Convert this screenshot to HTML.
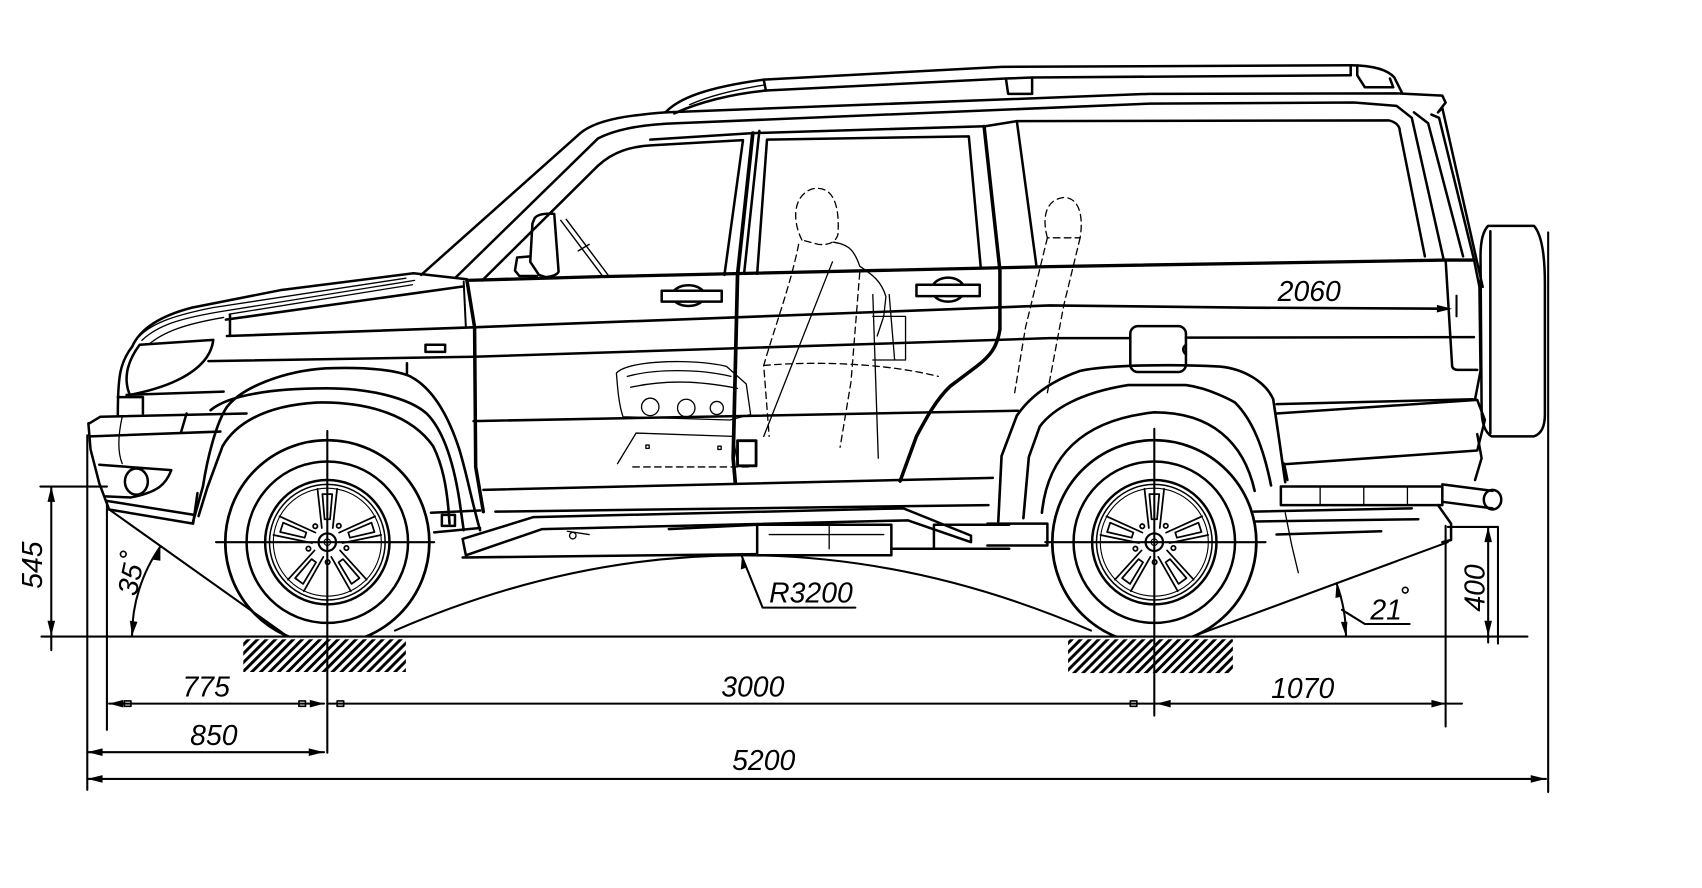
<!DOCTYPE html>
<html><head><meta charset="utf-8">
<style>
html,body{margin:0;padding:0;background:#fff;}
svg{display:block;}
text{font-family:"Liberation Sans",sans-serif;font-style:italic;font-size:26px;fill:#000;}
</style></head><body>
<svg width="1702" height="888" viewBox="0 0 1560 814" preserveAspectRatio="none" xmlns="http://www.w3.org/2000/svg">
<defs>
<pattern id="hatch" width="5.8" height="5.8" patternUnits="userSpaceOnUse" patternTransform="rotate(45)"><rect x="0" y="0" width="2.7" height="5.8" fill="#000"/></pattern>
<clipPath id="tc"><rect x="-120" y="-120" width="240" height="206.5"/></clipPath>
</defs>
<rect x="0" y="0" width="1560" height="814" fill="#fff"/>

<!-- hatches -->
<rect x="223" y="586" width="149" height="30" fill="url(#hatch)"/>
<rect x="979" y="586" width="151" height="31" fill="url(#hatch)"/>

<g fill="none" stroke="#000" stroke-linejoin="round" stroke-linecap="round">

<!-- ===== WHEELS ===== -->
<g transform="translate(300,497)">
<circle r="93.5" stroke-width="2.5" clip-path="url(#tc)"/>
<circle r="74" stroke-width="2.3"/>
<circle r="57" stroke-width="2.3"/>
<circle r="53" stroke-width="1.4"/>
<circle r="49.5" stroke-width="1"/>
<circle r="8" stroke-width="2"/>
<circle r="3" stroke-width="1"/>
<g stroke-width="1.6">
<g><path d="M -5,-13 L -9,-49 M 5,-13 L 9,-49 M -2.5,-21 L -4.5,-44 L 4.5,-44 L 2.5,-21 Z"/><circle cx="10.5" cy="-15" r="2"/></g>
<g transform="rotate(72)"><path d="M -5,-13 L -9,-49 M 5,-13 L 9,-49 M -2.5,-21 L -4.5,-44 L 4.5,-44 L 2.5,-21 Z"/><circle cx="10.5" cy="-15" r="2"/></g>
<g transform="rotate(144)"><path d="M -5,-13 L -9,-49 M 5,-13 L 9,-49 M -2.5,-21 L -4.5,-44 L 4.5,-44 L 2.5,-21 Z"/><circle cx="10.5" cy="-15" r="2"/></g>
<g transform="rotate(216)"><path d="M -5,-13 L -9,-49 M 5,-13 L 9,-49 M -2.5,-21 L -4.5,-44 L 4.5,-44 L 2.5,-21 Z"/><circle cx="10.5" cy="-15" r="2"/></g>
<g transform="rotate(288)"><path d="M -5,-13 L -9,-49 M 5,-13 L 9,-49 M -2.5,-21 L -4.5,-44 L 4.5,-44 L 2.5,-21 Z"/><circle cx="10.5" cy="-15" r="2"/></g>
</g>
</g>
<g transform="translate(1058,497)">
<circle r="93.5" stroke-width="2.5" clip-path="url(#tc)"/>
<circle r="74" stroke-width="2.3"/>
<circle r="57" stroke-width="2.3"/>
<circle r="53" stroke-width="1.4"/>
<circle r="49.5" stroke-width="1"/>
<circle r="8" stroke-width="2"/>
<circle r="3" stroke-width="1"/>
<g stroke-width="1.6">
<g><path d="M -5,-13 L -9,-49 M 5,-13 L 9,-49 M -2.5,-21 L -4.5,-44 L 4.5,-44 L 2.5,-21 Z"/><circle cx="10.5" cy="-15" r="2"/></g>
<g transform="rotate(72)"><path d="M -5,-13 L -9,-49 M 5,-13 L 9,-49 M -2.5,-21 L -4.5,-44 L 4.5,-44 L 2.5,-21 Z"/><circle cx="10.5" cy="-15" r="2"/></g>
<g transform="rotate(144)"><path d="M -5,-13 L -9,-49 M 5,-13 L 9,-49 M -2.5,-21 L -4.5,-44 L 4.5,-44 L 2.5,-21 Z"/><circle cx="10.5" cy="-15" r="2"/></g>
<g transform="rotate(216)"><path d="M -5,-13 L -9,-49 M 5,-13 L 9,-49 M -2.5,-21 L -4.5,-44 L 4.5,-44 L 2.5,-21 Z"/><circle cx="10.5" cy="-15" r="2"/></g>
<g transform="rotate(288)"><path d="M -5,-13 L -9,-49 M 5,-13 L 9,-49 M -2.5,-21 L -4.5,-44 L 4.5,-44 L 2.5,-21 Z"/><circle cx="10.5" cy="-15" r="2"/></g>
</g>
</g>

<!-- ===== ROOF RAIL ===== -->
<g stroke-width="2.3">
<path d="M 610,103 C 622,90 648,80 700,73 L 918,61.3 L 1238,59.8 C 1258,60 1272,64 1278,71 L 1285,85"/>
<path d="M 618,104 C 640,94 670,86 702,83 L 922,72 M 946,71 L 1238,69"/>
<path d="M 1238,59.8 L 1238,69 M 1244,60 L 1244,69 L 1251,80 L 1277,80 L 1274,72"/>
<path d="M 922,72 L 924,86 L 946,86 L 946,71 L 922,72"/>
<path d="M 700,73 L 702,83"/>
</g>
<path d="M 632,96 C 650,88 670,83 700,78" stroke-width="1.2"/>

<!-- ===== ROOF / PILLARS ===== -->
<g stroke-width="2.3">
<path d="M 386,252 L 532,122 C 545,111 570,106 610,103 L 1054,86 L 1280,85.6 L 1322,87.7 L 1325,94 L 1318,103 L 1322,99 L 1359,263"/>
<path d="M 418,254 L 548,127 C 565,118 590,114 620,113 L 1054,95 L 1241,94 L 1280,97 L 1294,108 L 1323,237"/>
<path d="M 1296,103 L 1309,113 L 1341,235"/>
<path d="M 1312,105 L 1319,108 L 1351,238"/>
<!-- front window -->
<path d="M 442,257 L 548,152 C 562,139 578,134 600,133 L 681,128.5 L 664,252"/>
<!-- door top line -->
<path d="M 596,128 L 690,122 L 903,115.7 L 932,111 L 1273,110.4 C 1280,112 1283,116 1283,120 L 1306,235"/>
<!-- c pillar -->
<path d="M 932,111 L 950,244"/>
<!-- rear door window -->
<path d="M 703,128 L 888,125 L 899,246 M 703,128 L 694,251"/>
<path d="M 696,120 L 682,251"/>
</g>
<path d="M 690,122 L 676,252 L 672,420 L 674,443" stroke-width="3.4"/>
<path d="M 902,116 L 916.5,248 L 916.5,302 C 914,318 908,326 895,336 L 871,354 C 858,366 848,385 840,400 L 825,441" stroke-width="3.2"/>

<!-- ===== BODY LINES ===== -->
<path d="M 428,257 L 550,253.6 L 962,244.4 L 1325,238.4 L 1351,238.4" stroke-width="3"/>
<path d="M 208,308 L 434,300 L 962,280 L 1146,282 L 1322,283" stroke-width="2.4"/>
<path d="M 191,331 L 434,327 L 962,310 L 1036,310 M 1087,309.5 L 1351,309" stroke-width="2.3"/>
<path d="M 434,386 L 933,376.5 M 1170,370.5 L 1350,366" stroke-width="2.3"/>
<path d="M 443,449 L 910,438" stroke-width="2.3"/>
<path d="M 454,469 L 906,463" stroke-width="2.3"/>
<path d="M 428,257 L 435,300 L 436,428 L 443,469" stroke-width="3.2"/>
<path d="M 425,258 L 427,300" stroke-width="1.8"/>

<!-- ===== FRONT END ===== -->
<g stroke-width="2.3">
<path d="M 121,318 C 128,302 145,290 176,282 L 257,266 L 379,250.5 L 428,256"/>
<path d="M 207,293 L 425,262.5"/>
<path d="M 210.8,289 L 210.8,307"/>
<path d="M 128,316 L 195.5,311.6 C 193,333 170,352 119,362 C 114,350 114,335 128,316 Z"/>
<path d="M 121,318 C 110,332 108,345 108,380"/>
<path d="M 116,362 L 205,359"/>
<path d="M 108,364 L 131,364 L 131,379"/>
<rect x="390" y="316" width="18" height="6.5"/>
<path d="M 373,333 L 373,342"/>
<!-- bumper -->
<path d="M 82,388 L 92,382 L 226,379"/>
<path d="M 81,388 L 83,412 L 91,443 L 100,467"/>
<path d="M 83,400 L 202,395.6"/>
<path d="M 91,426 L 157,431 C 152,444 145,451 120,456 L 97,455"/>
<ellipse cx="125" cy="441.4" rx="10.5" ry="12"/>
<path d="M 100,467 L 177,480 L 181,452"/>
<path d="M 97,459 L 178,472"/>
<path d="M 171,379 L 166,396"/>
</g>
<g stroke-width="1.2">
<path d="M 130,312 C 145,298 165,292 200,286 L 380,257"/>
<path d="M 136,316 C 150,304 170,297 205,291"/>
<path d="M 128,308 C 140,296 160,289 195,282 L 372,255"/>
<path d="M 210,288 L 378,261"/>
<path d="M 112,382 C 108,400 108,415 112,425"/>
</g>

<!-- ===== WHEEL ARCHES ===== -->
<g stroke-width="2.4">
<path d="M 177,478 L 186,446 C 190,420 198,388 208,373 C 222,355 260,340 299,337.6 C 340,336 365,340 376,345 C 395,355 410,378 421,412 C 428,435 432,458 440,486"/>
<path d="M 193,376 C 210,362 250,356 299,356 C 340,356 375,365 391,379 C 405,393 415,420 421,458 L 425,486"/>
<path d="M 182,473 L 190,447 L 204,409 C 215,390 240,372 290,369 C 340,368 378,382 397,409 C 405,425 410,445 412,480"/>
<path d="M 915,478 L 918,418 L 932,381 C 945,362 964,349 990,340 C 1017,334 1080,334 1118,336 C 1140,338 1160,350 1167,366 L 1172,400 L 1178,442"/>
<path d="M 938,475 L 943,419 L 953,391 C 965,375 990,360 1034,353 L 1087,353 C 1110,356 1132,369 1132,369 C 1148,385 1158,410 1165,445"/>
<path d="M 955,470 C 960,420 990,385 1058,378 C 1110,378 1140,405 1150,450"/>
</g>

<!-- ===== REAR ===== -->
<g stroke-width="2.3">
<path d="M 1170,379 L 1354,366.6 L 1361,385 L 1354,413 L 1177,425.6 M 1177,425 L 1180,440"/>
<path d="M 1325,238 L 1331,336 Q 1332,339 1336,339 L 1354,339"/>
<path d="M 1351,238 L 1356,263 L 1357,340 L 1352,366"/>
<path d="M 1364,207 L 1406,207 C 1413,215 1416,235 1416,260 L 1416,380 C 1416,392 1412,398 1406,400 L 1367,400 C 1361,396 1358,388 1358,375 L 1357,235 C 1357,220 1360,211 1364,207 Z"/>
<path d="M 1366,212 L 1366,397"/>
<path d="M 1354,398 L 1358,420 L 1352,440"/>
<rect x="1036" y="299" width="51" height="42" rx="7"/>
<path d="M 1087,316 Q 1082,320 1087,325"/>
<!-- handles -->
<ellipse cx="631" cy="271" rx="15" ry="9.5"/>
<rect x="606.5" y="266.5" width="55" height="10" fill="#fff"/>
<ellipse cx="869" cy="265.5" rx="15" ry="11"/>
<rect x="840" y="261" width="58" height="10.5" fill="#fff"/>
<!-- mirror -->
<path d="M 490,200 Q 494,195 508,196 L 512,249 Q 510,253 500,254 L 494,252 L 486,240 L 488,205 Z"/>
<path d="M 486,235 L 474,236 L 472,248 L 476,253 L 492,253"/>
</g>
<path d="M 514,202 L 553,254 M 519,201 L 558,253 M 530,230 L 540,224" stroke-width="1.3"/>

<!-- ===== UNDERBODY ===== -->
<g stroke-width="2.3">
<path d="M 424,494 L 489,474 L 828,466 L 890,491 L 890,497 L 832,477 L 497,485 L 427,509 Z"/>
<path d="M 424,511 L 694,508"/>
<path d="M 613,485 L 694,481"/>
<path d="M 694,481 L 817,481 L 817,509 L 694,509 Z"/>
<path d="M 817,503 L 925,503 M 856,481 L 925,481 M 856,481 L 856,503"/>
<path d="M 905,480 L 960,480 L 960,500 L 905,500"/>
<path d="M 395,470 L 440,468 M 398,488 L 440,484"/>
<rect x="405" y="472" width="12" height="10"/>
<rect x="1174" y="446" width="148" height="17"/>
<path d="M 1149,469 L 1294,466 M 1150,478 L 1300,476 M 1170,490 L 1266,487"/>
<path d="M 1322,444 L 1368,450 M 1322,460 L 1368,466"/>
<ellipse cx="1368" cy="458" rx="8" ry="9"/>
<path d="M 1318,463 L 1330,480 L 1330,495 L 1322,497"/>
<rect x="676" y="404" width="17" height="23" stroke-width="2.6"/>
</g>
<g stroke-width="1.2">
<path d="M 760,481 L 760,503 M 520,487 L 540,490 M 705,490 L 810,490"/>
<circle cx="525" cy="491" r="3"/>
<path d="M 1178,470 L 1184,500 L 1190,525"/>
<path d="M 1210,446 L 1210,463 M 1250,446 L 1250,463 M 1290,446 L 1290,463"/>
</g>

<!-- ===== INTERIOR (thin) ===== -->
<g stroke-width="1.2">
<path d="M 565,342 C 572,334 600,331 626,331.5 C 645,332 660,334 666,336 L 684,352 L 688,380 L 669,385 L 571,382 C 567,370 566,355 565,342 Z"/>
<path d="M 575,345 C 600,338 640,338 670,345 M 578,355 C 610,348 640,349 676,356"/>
<circle cx="596" cy="373" r="8"/>
<circle cx="629" cy="374" r="8"/>
<circle cx="657" cy="374" r="6"/>
<path d="M 566,425 L 583,397 L 672,400 L 676,425"/>
<rect x="592" y="408" width="3" height="3"/>
<rect x="658" y="409" width="3" height="3"/>
<path d="M 800,270 L 805,420 M 815,270 L 820,330 M 800,290 L 830,290 L 830,330 L 800,330"/>
<path d="M 763,240 L 700,400"/>
<path d="M 764,222 C 775,224 782,226 788,244 C 800,252 808,258 812,272 L 810,290 L 804,308"/>
</g>
<g stroke-width="1.2" stroke-dasharray="6,4">
<path d="M 735,220 C 725,200 728,178 745,173 C 762,170 770,185 768,215 C 766,222 760,225 750,224 Z"/>
<path d="M 732,224 C 725,260 710,300 700,335 L 705,400"/>
<path d="M 788,250 L 780,350 L 770,410"/>
<path d="M 960,218 C 955,200 958,183 975,181 C 990,181 993,200 990,218 Z"/>
<path d="M 960,218 L 940,300 L 930,360"/>
<path d="M 990,218 L 975,280 L 960,360"/>
<path d="M 700,335 C 760,330 820,335 860,345"/>
<path d="M 580,428 L 690,428"/>
</g>

<!-- ===== DIMENSION / CONSTRUCTION LINES ===== -->
<g stroke-width="1.9">
<path d="M 38,583.5 L 1400,583.5"/>
<path d="M 300,395 L 300,690 M 198,497 L 398,497"/>
<path d="M 1058,393 L 1058,656 M 958,497 L 1160,497"/>
<path d="M 80,399 L 80,724"/>
<path d="M 98,463 L 98,669"/>
<path d="M 1325,482 L 1325,666"/>
<path d="M 1419,213 L 1419,726"/>
<path d="M 37,446 L 98,446"/>
<path d="M 47,446 L 47,596"/>
<path d="M 1327,483 L 1373,483"/>
<path d="M 1364,483 L 1364,589 M 1373,483 L 1373,590"/>
<path d="M 100,467 L 263,583"/>
<path d="M 1327,497 L 1093,583.5"/>
<path d="M 121,583 A 142 142 0 0 1 147,501"/>
<path d="M 1233.7,583.5 A 140.7 140.7 0 0 0 1225,534.7"/>
<path d="M 1230,559 L 1251,572 L 1292,572"/>
<path d="M 362,578 Q 680,440 1000,578"/>
<path d="M 680,510 L 699,557 L 784,557"/>
<path d="M 100,645 L 297,645 M 300,645 L 1058,645 M 1058,645 L 1340,645"/>
<path d="M 80,689.5 L 297,689.5"/>
<path d="M 80,714 L 1417,714"/>
<path d="M 1335,271 L 1335,290"/>
</g>
<!-- small squares on dim lines -->
<g stroke-width="1.5">
<rect x="114" y="642.5" width="6" height="5"/>
<rect x="274" y="642.5" width="6" height="5"/>
<rect x="309" y="642.5" width="6" height="5"/>
<rect x="1036" y="642.5" width="6" height="5"/>
</g>
</g>

<!-- arrowheads -->
<g fill="#000" stroke="none">
<polygon points="100,645 113,641.5 113,648.5"/>
<polygon points="297,645 284,641.5 284,648.5"/>
<polygon points="1060,645 1073,641.5 1073,648.5"/>
<polygon points="1325,645 1312,641.5 1312,648.5"/>
<polygon points="80,689.5 94,686 94,693"/>
<polygon points="297,689.5 283,686 283,693"/>
<polygon points="80,714 94,710.5 94,717.5"/>
<polygon points="1417,714 1403,710.5 1403,717.5"/>
<polygon points="47,446 43.5,460 50.5,460"/>
<polygon points="47,583 43.5,569 50.5,569"/>
<polygon points="1364,483 1360.5,497 1367.5,497"/>
<polygon points="1364,583 1360.5,569 1367.5,569"/>
<polygon points="1331,283 1317,279.5 1317,286.5"/>
<polygon points="147,501 140,513 147,514"/>
<polygon points="121,583 119,569 126,570"/>
<polygon points="1225,534.7 1224,548 1230,547"/>
<polygon points="1233.7,583.5 1229,570 1235,570"/>
<polygon points="680,510 679,522 685,520"/>
</g>
<g fill="none" stroke="#000" stroke-width="1.5">
<circle cx="113" cy="508" r="2.6"/>
<circle cx="1288" cy="541" r="2.6"/>
</g>

<!-- text -->
<text x="189" y="638.5" text-anchor="middle">775</text>
<text x="690" y="638.5" text-anchor="middle">3000</text>
<text x="1194" y="640" text-anchor="middle">1070</text>
<text x="196" y="683" text-anchor="middle">850</text>
<text x="700" y="706" text-anchor="middle">5200</text>
<text x="705" y="552.5">R3200</text>
<text x="1200" y="276" text-anchor="middle">2060</text>
<text x="1256" y="568">21</text>
<text transform="translate(38.5,518) rotate(-90)" text-anchor="middle">545</text>
<text transform="translate(1360.5,539) rotate(-90)" text-anchor="middle">400</text>
<text transform="translate(128,533) rotate(-78)" text-anchor="middle">35</text>
</svg>
</body></html>
